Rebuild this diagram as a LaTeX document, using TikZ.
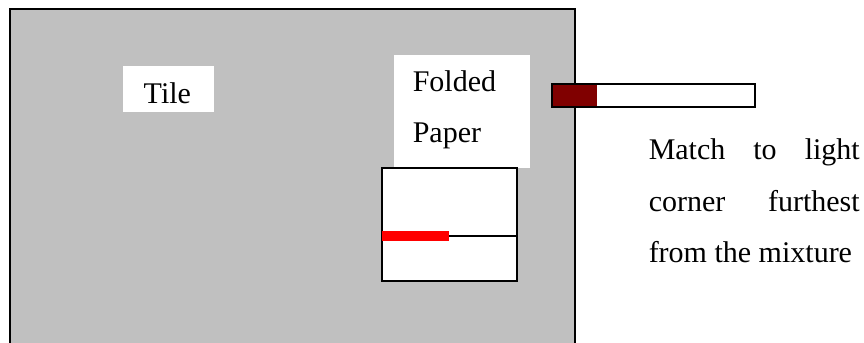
\documentclass[tikz,border=0pt]{standalone}
\usepackage{fontspec}
\setmainfont{Liberation Serif}
\usepackage{tikz}
\definecolor{tilegray}{HTML}{C0C0C0}
\definecolor{matchhead}{HTML}{800000}

\begin{document}
\begin{tikzpicture}[x=0.5pt, y=-0.5pt, line width=0.75pt,
		lbl/.style={anchor=base west, inner sep=0pt, font=\fontsize{15}{25.5}\selectfont}]
			\useasboundingbox (0,0) rectangle (864,343);

			\fill[tilegray] (10,9) rectangle (575,343);
			\draw (10,343) -- (10,9) -- (575,9) -- (575,343);

			\fill[white] (123,66) rectangle (214,112);
			\node[lbl] (tile) at (143,103) {Tile};

			\fill[white] (394,55) rectangle (530,168);
			\node[lbl] (folded) at (412,91.5) {Folded};
			\node[lbl] (paper) at (412,142.7) {Paper};

			\draw[fill=white] (382,168) rectangle (517,281);
			\draw (382,236) -- (517,236);
			\fill[red] (382,230.5) rectangle (449,241);

			\fill[white] (552,84) rectangle (755,107);
			\fill[matchhead] (552,84) rectangle (597,107);
			\draw (552,84) rectangle (755,107);

			\node[lbl] (match1) at (648,159.5) {\makebox[105.5pt][s]{Match to light}};
			\node[lbl] (match2) at (648,211) {\makebox[105.5pt][s]{corner furthest}};
			\node[lbl] (match3) at (648,262.7) {from the mixture};
		\end{tikzpicture}
\end{document}
